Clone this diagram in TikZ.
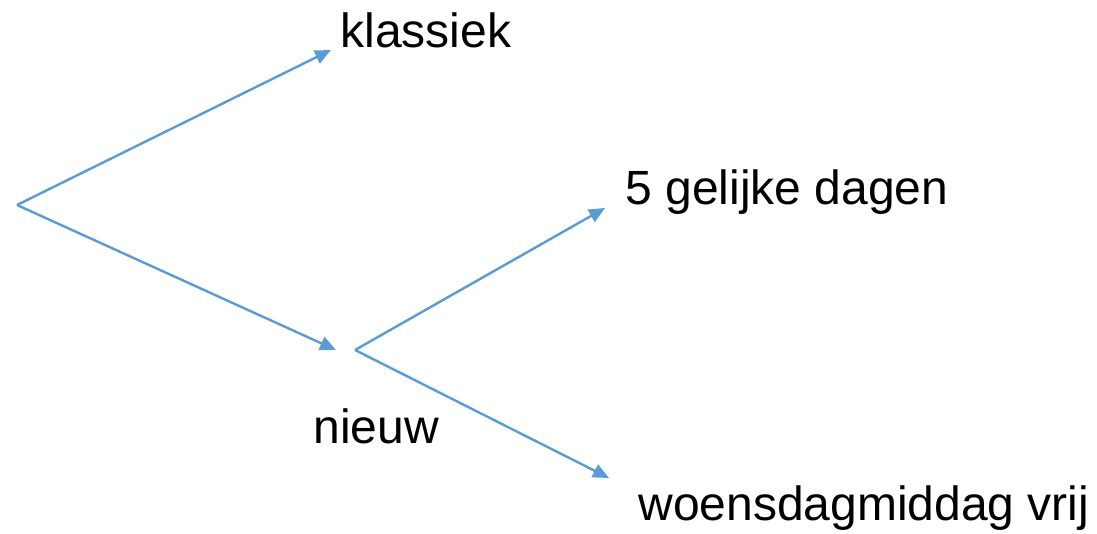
\documentclass[tikz,border=0pt]{standalone}
\usepackage{fontspec}
\setmainfont{Liberation Sans}
\usetikzlibrary{arrows.meta}
\definecolor{lineblue}{HTML}{5B9BD5}
\begin{document}
\begin{tikzpicture}[x=0.5pt,y=-0.5pt,
  conn/.style={draw=lineblue,line width=1.2pt,-{Triangle[length=8pt,width=7pt]}},
  lbl/.style={anchor=base west,inner sep=0pt,font=\fontsize{24}{28}\selectfont}]
\useasboundingbox (0,0) rectangle (1097,534);
\coordinate (root) at (17,205);
\coordinate (t1) at (331,50);
\coordinate (t2) at (336,350);
\coordinate (fork) at (355,350);
\coordinate (t3) at (605,208);
\coordinate (t4) at (609,478);
\node[lbl] (klassiek) at (340,48) {klassiek};
\node[lbl] (gelijk) at (625,205) {5 gelijke dagen};
\node[lbl] (nieuw) at (313,443) {nieuw};
\node[lbl] (woens) at (638,520) {woensdagmiddag vrij};
\draw[conn] (root) -- (t1);
\draw[conn] (root) -- (t2);
\draw[conn] (fork) -- (t3);
\draw[conn] (fork) -- (t4);
\end{tikzpicture}
\end{document}
